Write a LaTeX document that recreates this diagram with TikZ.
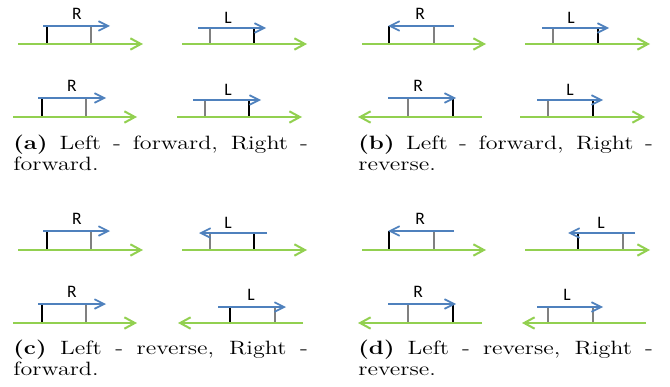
\documentclass[tikz,border=0pt]{standalone}
\usepackage{fontspec}
\newfontfamily\labelfont{Carlito}
\usetikzlibrary{arrows.meta}
\definecolor{strandgreen}{RGB}{146,208,80}
\definecolor{readblue}{RGB}{79,129,189}
\definecolor{tickgray}{RGB}{128,128,128}
\hyphenpenalty=10000
\exhyphenpenalty=10000
\begin{document}
\begin{tikzpicture}[x=0.571pt,y=-0.571pt,
  strand/.style={strandgreen,line width=1.15pt,-{Straight Barb[length=6pt,width=6.5pt]}},
  read/.style={readblue,line width=1pt,-{Straight Barb[length=5.5pt,width=5.5pt]}},
  darktick/.style={black,line width=0.75pt},
  lighttick/.style={tickgray,line width=0.75pt},
  readlbl/.style={font=\labelfont\fontsize{10}{12}\selectfont,inner sep=0pt},
  subcap/.style={anchor=north west,inner sep=0pt,align=justify,text width=134.5pt,xscale=1.25,
    font=\fontsize{11}{12}\selectfont}]
\useasboundingbox (0,0) rectangle (670,387);
\draw[darktick] (47,26)--(47,44);
\draw[lighttick] (91,26)--(91,44);
\draw[strand] (18,44)--(143,44);
\draw[read] (43,26)--(110,26);
\node[readlbl] (lblA1) at (77,14) {R};
\draw[lighttick] (210,28)--(210,44);
\draw[darktick] (254,28)--(254,44);
\draw[strand] (182,44)--(307,44);
\draw[read] (198,28)--(266,28);
\node[readlbl] (lblA2) at (228,18) {L};
\draw[darktick] (42,98)--(42,117);
\draw[lighttick] (86,98)--(86,117);
\draw[strand] (13,117)--(137,117);
\draw[read] (38,98)--(106,98);
\node[readlbl] (lblA3) at (72,86) {R};
\draw[lighttick] (205,100)--(205,117);
\draw[darktick] (249,100)--(249,117);
\draw[strand] (177,117)--(302,117);
\draw[read] (193,100)--(261,100);
\node[readlbl] (lblA4) at (228,90) {L};
\node[subcap] (capA) at (13,135) {\textbf{(a)} Left - forward, Right~- forward.};
\draw[darktick] (389,26)--(389,44);
\draw[lighttick] (434,26)--(434,44);
\draw[strand] (362,44)--(486,44);
\draw[read] (454,26)--(388,26);
\node[readlbl] (lblB1) at (420,14) {R};
\draw[lighttick] (553,28)--(553,44);
\draw[darktick] (598,28)--(598,44);
\draw[strand] (525,44)--(650,44);
\draw[read] (542,28)--(609,28);
\node[readlbl] (lblB2) at (571,18) {L};
\draw[lighttick] (408,98)--(408,117);
\draw[darktick] (453,98)--(453,117);
\draw[strand] (482,117)--(358,117);
\draw[read] (388,98)--(456,98);
\node[readlbl] (lblB3) at (418,86) {R};
\draw[lighttick] (548,100)--(548,117);
\draw[darktick] (593,100)--(593,117);
\draw[strand] (520,117)--(645,117);
\draw[read] (537,100)--(603,100);
\node[readlbl] (lblB4) at (570,90) {L};
\node[subcap] (capB) at (358,135) {\textbf{(b)} Left - forward, Right~- reverse.};
\draw[darktick] (47,231)--(47,250);
\draw[lighttick] (91,231)--(91,250);
\draw[strand] (18,250)--(143,250);
\draw[read] (43,231)--(110,231);
\node[readlbl] (lblC1) at (77,219) {R};
\draw[lighttick] (210,233)--(210,250);
\draw[darktick] (254,233)--(254,250);
\draw[strand] (182,250)--(307,250);
\draw[read] (267,233)--(199,233);
\node[readlbl] (lblC2) at (228,223) {L};
\draw[darktick] (42,304)--(42,323);
\draw[lighttick] (86,304)--(86,323);
\draw[strand] (13,323)--(137,323);
\draw[read] (38,304)--(106,304);
\node[readlbl] (lblC3) at (72,292) {R};
\draw[darktick] (230,307)--(230,323);
\draw[lighttick] (275,307)--(275,323);
\draw[strand] (303,323)--(178,323);
\draw[read] (218,307)--(286,307);
\node[readlbl] (lblC4) at (251,295) {L};
\node[subcap] (capC) at (13,340) {\textbf{(c)} Left - reverse, Right~- forward.};
\draw[darktick] (389,231)--(389,250);
\draw[lighttick] (434,231)--(434,250);
\draw[strand] (362,250)--(486,250);
\draw[read] (454,231)--(388,231);
\node[readlbl] (lblD1) at (420,219) {R};
\draw[darktick] (578,233)--(578,250);
\draw[lighttick] (623,233)--(623,250);
\draw[strand] (525,250)--(650,250);
\draw[read] (635,233)--(568,233);
\node[readlbl] (lblD2) at (601,223) {L};
\draw[lighttick] (408,304)--(408,323);
\draw[darktick] (453,304)--(453,323);
\draw[strand] (482,323)--(358,323);
\draw[read] (388,304)--(456,304);
\node[readlbl] (lblD3) at (418,292) {R};
\draw[lighttick] (548,307)--(548,323);
\draw[lighttick] (593,307)--(593,323);
\draw[strand] (646,323)--(522,323);
\draw[read] (537,307)--(603,307);
\node[readlbl] (lblD4) at (567,295) {L};
\node[subcap] (capD) at (358,340) {\textbf{(d)} Left - reverse, Right~- reverse.};
\end{tikzpicture}
\end{document}
